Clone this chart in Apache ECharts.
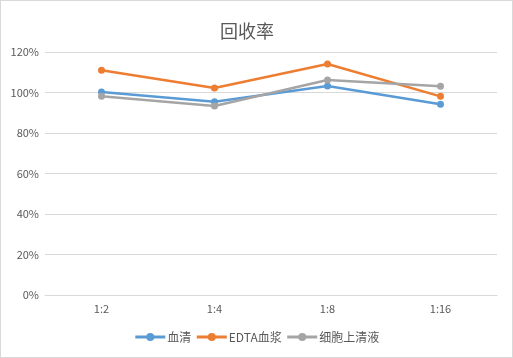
<!DOCTYPE html>
<html><head><meta charset="utf-8">
<script src="https://cdn.jsdelivr.net/npm/echarts@6/dist/echarts.min.js"></script>
<style>html,body{margin:0;padding:0;background:#fff}#c{width:511px;height:356px;border:1px solid #d9d9d9}</style>
</head><body><div id="c"></div>
<script>
const categories = ['1:2','1:4','1:8','1:16'];
const serum = [100.3, 95.4, 103.2, 94.2];
const edta = [111.0, 102.2, 114.1, 98.1];
const supernatant = [98.2, 93.3, 106.2, 103.1];
const yTicks = [0,20,40,60,80,100,120];
const chart = echarts.init(document.getElementById('c'));
const font = '"Microsoft YaHei","Noto Sans CJK SC","DejaVu Sans",sans-serif';
function mk(name, data, color){
  return {name, type:'line', data, symbol:'circle', symbolSize:7,
    lineStyle:{width:2.5,color}, itemStyle:{color}, emphasis:{disabled:true}};
}
chart.setOption({
  animation:false,
  title:{text:'回收率', left:214, top:16, textStyle:{fontSize:18, fontWeight:'normal', color:'#595959', fontFamily:font}},
  grid:{left:44, right:15, top:51, bottom:62},
  xAxis:{type:'category', data:categories, axisTick:{show:false}, axisLine:{lineStyle:{color:'#d9d9d9'}},
    axisLabel:{color:'#595959', fontSize:11, margin:8, fontFamily:font}},
  yAxis:{type:'value', min:yTicks[0], max:yTicks[yTicks.length-1], interval:20,
    axisLabel:{formatter:'{value}%', color:'#595959', fontSize:11, margin:6, fontFamily:font},
    splitLine:{lineStyle:{color:'#d9d9d9'}}, axisLine:{show:false}, axisTick:{show:false}},
  legend:{bottom:9, left:'center', itemWidth:30, itemHeight:10, itemGap:4,
    lineStyle:{width:3},
    textStyle:{color:'#595959', fontSize:12, fontFamily:font, padding:[0,0,0,-3]},
    data:['血清','EDTA血浆','细胞上清液']},
  series:[mk('血清',serum,'#5B9BD5'), mk('EDTA血浆',edta,'#ED7D31'), mk('细胞上清液',supernatant,'#A5A5A5')]
});
</script></body></html>
